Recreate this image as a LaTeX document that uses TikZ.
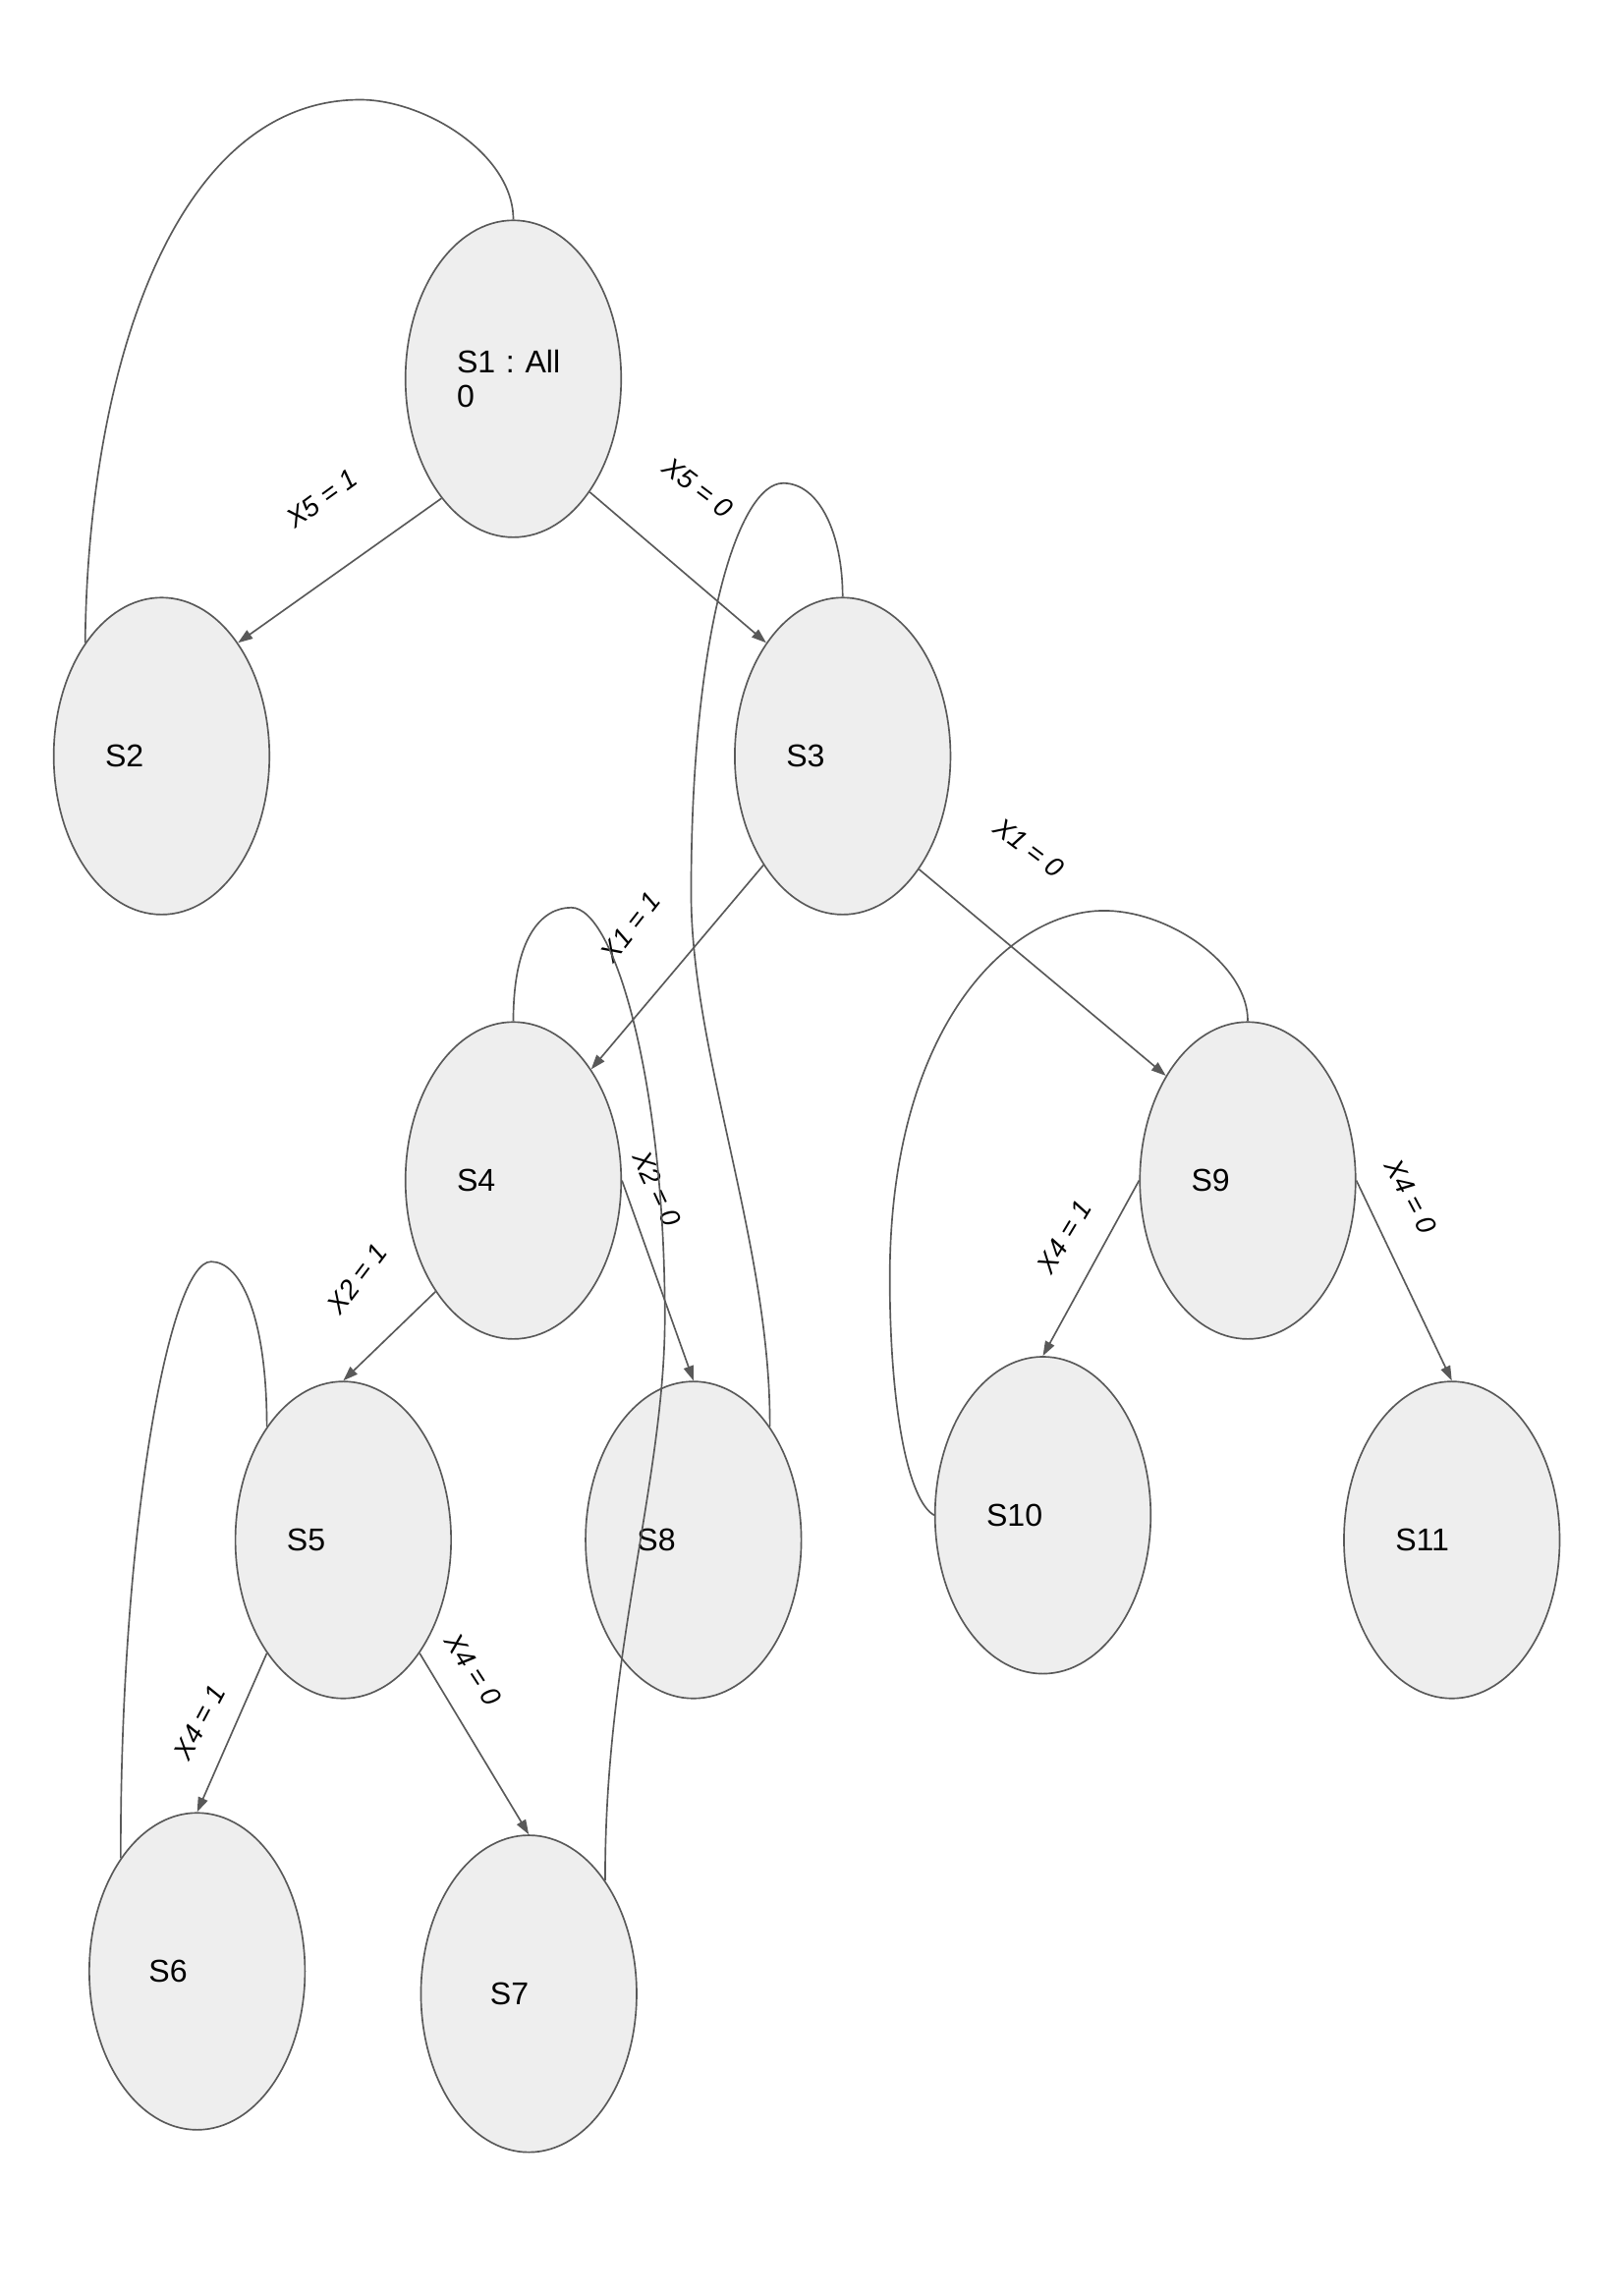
\documentclass[tikz,border=0pt]{standalone}
\usepackage{fontspec}
\setmainfont{Liberation Sans}
\usepackage{xcolor}
\usetikzlibrary{shapes.geometric,arrows.meta}

\definecolor{edgegray}{HTML}{595959}
\definecolor{statefill}{HTML}{EEEEEE}

\begin{document}
\frenchspacing
\begin{tikzpicture}[
    state/.style={draw=edgegray, fill=statefill, ellipse, line width=0.6pt, minimum width=2.79cm, minimum height=4.1cm, inner sep=0pt, text width=1.46cm, align=left, font=\fontsize{11.6}{12.9}\selectfont},
    trans/.style={draw=edgegray, line width=0.6pt, -{Triangle[length=1.9mm,width=1.3mm]}},
    back/.style={draw=edgegray, line width=0.6pt},
    cond/.style={font=\fontsize{10}{12}\selectfont\itshape, inner sep=1pt}
]
    \useasboundingbox (0,0) rectangle (21,-29.7);

    % Root state
    \node[state] (s1) at (6.64,-4.90) {S1 : All\\0};

    % Second level
    \node[state] (s2) at (2.09,-9.78) {S2};
    \node[state] (s3) at (10.90,-9.78) {S3};

    % Third level
    \node[state] (s4) at (6.64,-15.27) {S4};
    \node[state] (s9) at (16.14,-15.27) {S9};

    % Fourth level
    \node[state] (s5) at (4.44,-19.92) {S5};
    \node[state] (s8) at (8.97,-19.92) {S8};
    \node[state] (s10) at (13.49,-19.60) {S10};
    \node[state] (s11) at (18.78,-19.92) {S11};

    % Leaves
    \node[state, text width=1.25cm] (s6) at (2.55,-25.50) {S6};
    \node[state, text width=1.0cm] (s7) at (6.84,-25.79) {S7};

    % Arrows
    \draw[trans] (s1.239) -- (s2.56);
    \draw[trans] (s1.304) -- (s3.124);
    \draw[trans] (s3.234) -- (s4.55);
    \draw[trans] (s3.304) -- (s9.128);
    \draw[trans] (s4.235) -- (s5.north);
    \draw[trans] (s4.east) -- (s8.north);
    \draw[trans] (s9.west) -- (s10.north);
    \draw[trans] (s9.east) -- (s11.north);
    \draw[trans] (s5.236) -- (s6.north);
    \draw[trans] (s5.304) -- (s7.north);

    % Conditions
    \node[cond, rotate=36] (l12) at (4.17,-6.45) {X5 = 1};
    \node[cond, rotate=-37] (l13) at (9.03,-6.31) {X5 = 0};
    \node[cond, rotate=-37] (l39) at (13.31,-10.97) {X1 = 0};
    \node[cond, rotate=52] (l34) at (8.16,-11.99) {X1 = 1};
    \node[cond, rotate=-65] (l48) at (8.50,-15.38) {X2 = 0};
    \node[cond, rotate=53] (l45) at (4.62,-16.54) {X2 = 1};
    \node[cond, rotate=59] (l910) at (13.77,-16.00) {X4 = 1};
    \node[cond, rotate=-62] (l911) at (18.25,-15.48) {X4 = 0};
    \node[cond, rotate=62] (l56) at (2.58,-22.28) {X4 = 1};
    \node[cond, rotate=-57] (l57) at (6.12,-21.60) {X4 = 0};

    % Return curves
    \draw[back] (s2.124) .. controls (1.14,-4.73) and (2.27,-1.29) .. (4.66,-1.29)
        .. controls (5.49,-1.29) and (6.64,-1.99) .. (s1.north);
    \draw[back] (s3.north) .. controls (10.90,-6.91) and (10.60,-6.25) .. (10.13,-6.25)
        .. controls (9.56,-6.25) and (8.94,-8.14) .. (8.94,-11.55)
        .. controls (8.94,-13.63) and (9.97,-16.10) .. (s8.56);
    \draw[back] (s4.north) .. controls (6.64,-12.12) and (7.01,-11.74) .. (7.39,-11.74)
        .. controls (7.95,-11.74) and (8.60,-14.01) .. (8.60,-17.04)
        .. controls (8.60,-19.13) and (7.82,-21.40) .. (s7.56);
    \draw[back] (s9.north) .. controls (16.15,-12.50) and (15.15,-11.78) .. (14.28,-11.78)
        .. controls (13.07,-11.78) and (11.51,-13.26) .. (11.51,-16.53)
        .. controls (11.51,-18.18) and (11.74,-19.41) .. (s10.west);
    \draw[back] (s5.124) .. controls (3.45,-17.04) and (3.12,-16.32) .. (2.73,-16.32)
        .. controls (2.18,-16.32) and (1.55,-19.88) .. (s6.124);
\end{tikzpicture}
\end{document}
